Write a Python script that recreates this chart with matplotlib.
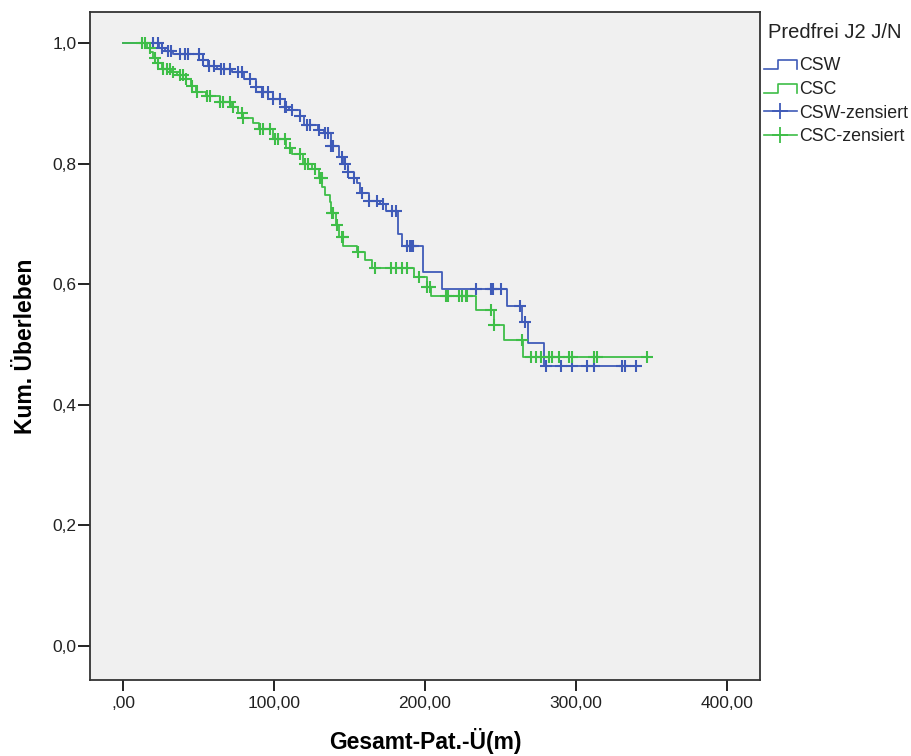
import numpy as np
import matplotlib
matplotlib.use('Agg')
import matplotlib.pyplot as plt
from matplotlib.lines import Line2D
from matplotlib.legend_handler import HandlerBase

# Kaplan-Meier steps (time in months, survival after the step)
csw_t = [0, 24, 28, 33, 53, 56, 62, 72, 80, 88, 92, 99, 107, 110, 117, 120, 129, 133,
         138, 143, 146, 149, 153, 155, 157, 163, 170, 174, 182, 185, 199, 211, 254, 264,
         268, 279, 343]
csw_s = [1.0, 0.993, 0.987, 0.982, 0.973, 0.962, 0.958, 0.952, 0.940, 0.927, 0.920, 0.907,
         0.895, 0.890, 0.879, 0.865, 0.857, 0.852, 0.829, 0.812, 0.800, 0.786, 0.776, 0.769,
         0.752, 0.738, 0.733, 0.721, 0.683, 0.664, 0.620, 0.593, 0.565, 0.537, 0.503, 0.465,
         0.465]

csc_t = [0, 16, 18, 20, 23, 26, 32, 36, 42, 45, 48, 55, 64, 72, 76, 79, 86, 90, 99, 108,
         112, 119, 125, 130, 132, 134, 137, 138, 141, 143, 146, 155, 160, 165, 193, 201,
         204, 234, 246, 252, 265, 348]
csc_s = [1.0, 0.993, 0.985, 0.975, 0.967, 0.958, 0.952, 0.947, 0.940, 0.930, 0.920, 0.912,
         0.903, 0.894, 0.885, 0.876, 0.868, 0.858, 0.841, 0.827, 0.816, 0.799, 0.791, 0.777,
         0.762, 0.749, 0.736, 0.719, 0.699, 0.679, 0.663, 0.653, 0.641, 0.628, 0.613, 0.596,
         0.580, 0.558, 0.533, 0.508, 0.480, 0.480]

# censored observations (time)
csw_cens = [20, 23, 26, 30, 32, 38, 41, 43, 50, 53, 57, 60, 65, 67, 71, 76, 79, 84, 88, 92,
            93, 96, 99, 104, 107, 108, 112, 117, 122, 124, 130, 134, 136, 138, 139, 145, 147,
            149, 153, 158, 163, 168, 172, 178, 181, 188, 190, 191, 192, 234, 244, 245, 250.6,
            263, 266, 280, 290, 297.5, 307, 312, 330.6, 332.6, 339.6]
csc_cens = [12.6, 14.5, 17.9, 21, 23, 26.4, 29, 31, 33, 37.7, 39.7, 42, 45.6, 49, 55.5, 57.5,
            64, 66, 70.7, 72.7, 78.7, 79.3, 90.6, 92.6, 97, 100.5, 102.5, 107, 110.4, 117,
            120.3, 122.3, 127, 130.2, 131.6, 138.2, 138.8, 142, 144.8, 145.5, 155.4, 166.6,
            177.8, 181, 185, 187.8, 196, 201.6, 203, 214, 215.5, 222.8, 224.8, 227.4, 228,
            244, 246, 264.5, 270, 273.7, 277, 282, 284, 289, 295.5, 297.5, 312, 314, 347]

blue = '#3F5BB8'
green = '#3EBE48'
plt.rcParams['font.family'] = ['Liberation Sans', 'DejaVu Sans']


def surv_at(t_steps, s_steps, tc):
    idx = np.searchsorted(t_steps, tc, side='right') - 1
    return np.array(s_steps)[idx]


class StepHandler(HandlerBase):
    def create_artists(self, legend, orig_handle, xdescent, ydescent, width, height,
                       fontsize, trans):
        x0, x1 = -xdescent, -xdescent + width
        yl, yh = -ydescent + 0.1 * height, -ydescent + 0.8 * height
        xm = x0 + 0.42 * width
        ln = Line2D([x0, xm, xm, x1, x1], [yl, yl, yh, yh, yl],
                    color=orig_handle.get_color(), lw=1.2, transform=trans)
        return [ln]


fig = plt.figure(figsize=(9.12, 7.56), dpi=100)
ax = fig.add_axes([90 / 912, 76 / 756, 670 / 912, 668 / 756])
ax.set_facecolor('#F0F0F0')

ax.step(csw_t, csw_s, where='post', color=blue, lw=1.3)
ax.step(csc_t, csc_s, where='post', color=green, lw=1.3)
ax.plot(csw_cens, surv_at(csw_t, csw_s, csw_cens), ls='none', marker='+', ms=8,
        mew=1.5, color=blue)
ax.plot(csc_cens, surv_at(csc_t, csc_s, csc_cens), ls='none', marker='+', ms=8,
        mew=1.5, color=green)

ax.set_xlim(-21.9, 421.9)
ax.set_ylim(-0.0564, 1.052)
ax.set_xticks([0, 100, 200, 300, 400])
ax.set_xticklabels([',00', '100,00', '200,00', '300,00', '400,00'])
ax.set_yticks([0.0, 0.2, 0.4, 0.6, 0.8, 1.0])
ax.set_yticklabels(['0,0', '0,2', '0,4', '0,6', '0,8', '1,0'])
ax.tick_params(axis='both', direction='out', width=1.4, color='#222222',
               labelsize=12.5, labelcolor='#222222')
ax.tick_params(axis='y', length=8.5, pad=1)
ax.tick_params(axis='x', length=8, pad=3.5)
for sp in ax.spines.values():
    sp.set_color('#333333')
    sp.set_linewidth(1.3)

ax.set_xlabel('Gesamt-Pat.-Ü(m)', fontsize=16.5, fontweight='bold', labelpad=12)
ax.set_ylabel('Kum. Überleben', fontsize=16.5, fontweight='bold', labelpad=11)

fig.text(768 / 912, 1 - 32 / 756, 'Predfrei J2 J/N', fontsize=14.5, color='#222222',
         ha='left', va='center')
h1 = Line2D([], [], color=blue)
h2 = Line2D([], [], color=green)
h3 = Line2D([], [], color=blue, marker='+', ms=11, mew=1.3, lw=1.2)
h4 = Line2D([], [], color=green, marker='+', ms=11, mew=1.3, lw=1.2)
leg = fig.legend([h1, h2, h3, h4], ['CSW', 'CSC', 'CSW-zensiert', 'CSC-zensiert'],
                 loc='upper left', bbox_to_anchor=(764 / 912, 1 - 57 / 756),
                 frameon=False, fontsize=12.8, handlelength=1.85,
                 handletextpad=0.15, labelspacing=0.38, borderaxespad=0, borderpad=0,
                 handler_map={h1: StepHandler(), h2: StepHandler()})
for t in leg.get_texts():
    t.set_color('#222222')

fig.savefig('out.png', dpi=100)
